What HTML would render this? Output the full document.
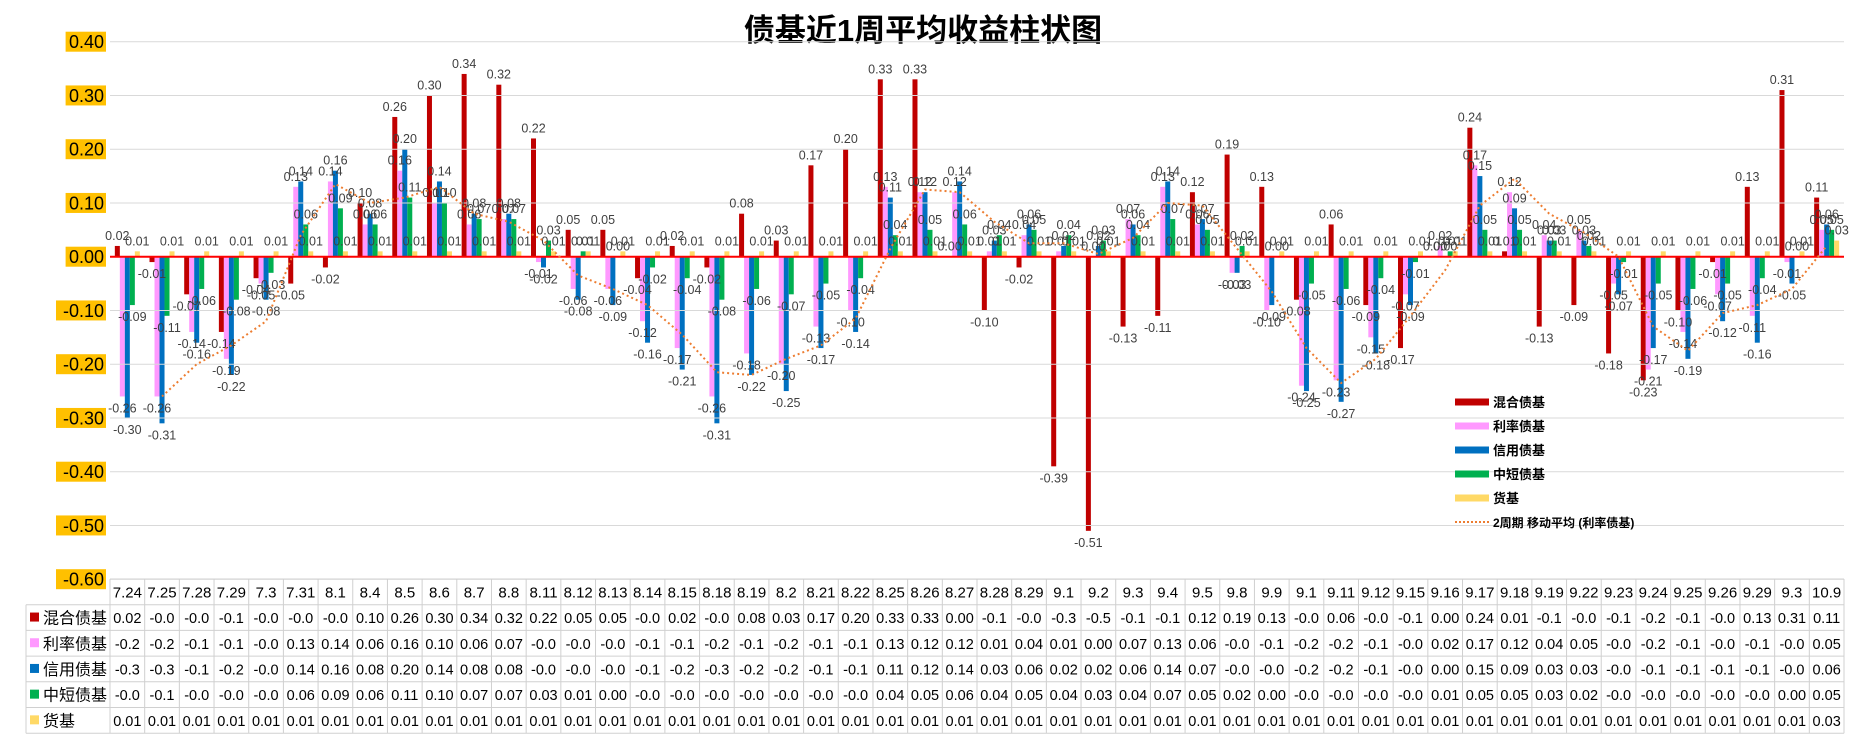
<!DOCTYPE html>
<html><head><meta charset="utf-8">
<style>
html,body{margin:0;padding:0;background:#fff;}
svg{display:block;font-family:"Liberation Sans","Noto Sans CJK SC",sans-serif;}
</style></head>
<body>
<svg id="chart" width="1855" height="742" viewBox="0 0 1855 742" xmlns="http://www.w3.org/2000/svg">
<text x="923" y="41" text-anchor="middle" font-size="31" font-weight="bold" fill="#000" font-family="'Liberation Sans','Noto Sans CJK SC',sans-serif">债基近1周平均收益柱状图</text>
<g id="grid"></g><g id="bars"></g><g id="labels"></g><g id="ma"></g><g id="yaxis"></g><g id="legend"></g><g id="table"></g>
</svg>
<script>
const categories=["7.24","7.25","7.28","7.29","7.3","7.31","8.1","8.4","8.5","8.6","8.7","8.8","8.11","8.12","8.13","8.14","8.15","8.18","8.19","8.2","8.21","8.22","8.25","8.26","8.27","8.28","8.29","9.1","9.2","9.3","9.4","9.5","9.8","9.9","9.1","9.11","9.12","9.15","9.16","9.17","9.18","9.19","9.22","9.23","9.24","9.25","9.26","9.29","9.3","10.9"];
const mixed=[0.02,-0.01,-0.07,-0.14,-0.04,-0.05,-0.02,0.10,0.26,0.30,0.34,0.32,0.22,0.05,0.05,-0.04,0.02,-0.02,0.08,0.03,0.17,0.20,0.33,0.33,0.00,-0.10,-0.02,-0.39,-0.51,-0.13,-0.11,0.12,0.19,0.13,-0.08,0.06,-0.09,-0.17,0.00,0.24,0.01,-0.13,-0.09,-0.18,-0.23,-0.10,-0.01,0.13,0.31,0.11];
const rate=[-0.26,-0.26,-0.14,-0.19,-0.05,0.13,0.14,0.06,0.16,0.10,0.06,0.07,-0.01,-0.06,-0.06,-0.12,-0.17,-0.26,-0.18,-0.20,-0.13,-0.10,0.13,0.12,0.12,0.01,0.04,0.01,0.00,0.07,0.13,0.06,-0.03,-0.10,-0.24,-0.23,-0.15,-0.07,0.02,0.17,0.12,0.04,0.05,-0.05,-0.21,-0.14,-0.07,-0.11,-0.01,0.05];
const credit=[-0.30,-0.31,-0.16,-0.22,-0.08,0.14,0.16,0.08,0.20,0.14,0.08,0.08,-0.02,-0.08,-0.09,-0.16,-0.21,-0.31,-0.22,-0.25,-0.17,-0.14,0.11,0.12,0.14,0.03,0.06,0.02,0.02,0.06,0.14,0.07,-0.03,-0.09,-0.25,-0.27,-0.18,-0.09,0.00,0.15,0.09,0.03,0.03,-0.07,-0.17,-0.19,-0.12,-0.16,-0.05,0.06];
const shortTerm=[-0.09,-0.11,-0.06,-0.08,-0.03,0.06,0.09,0.06,0.11,0.10,0.07,0.07,0.03,0.01,0.00,-0.02,-0.04,-0.08,-0.06,-0.07,-0.05,-0.04,0.04,0.05,0.06,0.04,0.05,0.04,0.03,0.04,0.07,0.05,0.02,0.00,-0.05,-0.06,-0.04,-0.01,0.01,0.05,0.05,0.03,0.02,-0.01,-0.05,-0.06,-0.05,-0.04,0.00,0.05];
const money=[0.01,0.01,0.01,0.01,0.01,0.01,0.01,0.01,0.01,0.01,0.01,0.01,0.01,0.01,0.01,0.01,0.01,0.01,0.01,0.01,0.01,0.01,0.01,0.01,0.01,0.01,0.01,0.01,0.01,0.01,0.01,0.01,0.01,0.01,0.01,0.01,0.01,0.01,0.01,0.01,0.01,0.01,0.01,0.01,0.01,0.01,0.01,0.01,0.01,0.03];
const seriesNames=["混合债基","利率债基","信用债基","中短债基","货基"];
const yTicks=[0.4,0.3,0.2,0.1,0,-0.1,-0.2,-0.3,-0.4,-0.5,-0.6];

const NS="http://www.w3.org/2000/svg";
const colors=["#C00000","#FF99FF","#0070C0","#00B050","#FFD966"];
const series=[mixed,rate,credit,shortTerm,money];
const X0=110,X1=1844,Y0=256.7,UNIT=537.5;
const cw=(X1-X0)/categories.length, bw=5;
function y(v){return Y0-v*UNIT;}
function xc(i){return X0+cw*(i+0.5);}
function mk(tag,attrs,parent){const e=document.createElementNS(NS,tag);for(const k in attrs)e.setAttribute(k,attrs[k]);parent.appendChild(e);return e;}
const G=id=>document.getElementById(id);

yTicks.forEach(t=>{
  if(t!==0){const l=mk('line',{x1:X0,x2:X1,y1:y(t),y2:y(t),stroke:'#d9d9d9','stroke-width':1},G('grid'));
  
  }
  const s=t.toFixed(2);
  const r=mk('rect',{x:104-s.length*9.6,y:y(t)-10,width:s.length*9.6+2,height:20,fill:'#FFC000'},G('yaxis'));
  
  
  const tx=mk('text',{x:104,y:y(t)+6.5,'text-anchor':'end','font-size':18,fill:'#000'},G('yaxis'));
  tx.textContent=s;
  
  
});

series.forEach((arr,si)=>{
  arr.forEach((v,i)=>{
    const bx=xc(i)-12.5+si*bw;
    const r=mk('rect',{x:bx,y:Math.min(y(v),Y0),width:bw,height:Math.max(Math.abs(y(v)-Y0),0.5),fill:colors[si]},G('bars'));
    
    
    const t=mk('text',{x:bx+bw/2,y:v>=0?y(v)-6:y(v)+16,'text-anchor':'middle','font-size':12.5,fill:'#404040'},G('labels'));
    t.textContent=v.toFixed(2);
    
    
  });
});
const z=mk('line',{x1:X0,x2:X1,y1:Y0,y2:Y0,stroke:'#FF0000','stroke-width':2},G('grid'));


G('bars').after(G('grid'));
let pts=[];
for(let i=1;i<rate.length;i++){pts.push(xc(i)+','+y((rate[i-1]+rate[i])/2));}
const ma=mk('polyline',{points:pts.join(' '),fill:'none',stroke:'#ED7D31','stroke-width':2,'stroke-dasharray':'2 3'},G('ma'));



const legNames=seriesNames.concat(["2周期 移动平均 (利率债基)"]);
legNames.forEach((n,i)=>{
  const ly=402+i*24;
  if(i<5){const r=mk('rect',{x:1455,y:ly-3.5,width:34,height:7,fill:colors[i]},G('legend'));
    
    }
  else{const l=mk('line',{x1:1455,x2:1489,y1:ly,y2:ly,stroke:'#ED7D31','stroke-width':2,'stroke-dasharray':'2 2'},G('legend'));
    
    }
  const t=mk('text',{x:1493,y:ly+5,'font-size':i<5?13:12,'font-weight':'bold',fill:'#000'},G('legend'));
  t.textContent=n;
  
  
});

const TT=579,RH=25.7,TB=G('table');
function fmt(v){if(v<0){const t=Math.trunc(Math.round(v*100)/10)/10;return '-'+Math.abs(t).toFixed(1);}return v.toFixed(2);}
for(let r=0;r<=6;r++){
  const yy=TT+r*RH;
  const l=mk('line',{x1:r===0?X0:26,x2:X1,y1:yy,y2:yy,stroke:'#d0d0d0','stroke-width':1},TB);
  
  
}
for(let c=0;c<=categories.length;c++){
  const xx=X0+c*cw;
  const l=mk('line',{x1:xx,x2:xx,y1:TT,y2:TT+6*RH,stroke:'#d0d0d0','stroke-width':1},TB);
  
  
}
const lv=mk('line',{x1:26,x2:26,y1:TT+RH,y2:TT+6*RH,stroke:'#d0d0d0','stroke-width':1},TB);


categories.forEach((c,i)=>{
  const t=mk('text',{x:xc(i),y:TT+RH/2+5.5,'text-anchor':'middle','font-size':15,fill:'#000'},TB);
  t.textContent=c;
  
  
});
series.forEach((arr,si)=>{
  const yy=TT+(si+1)*RH;
  const r=mk('rect',{x:30,y:yy+RH/2-5,width:9,height:9,fill:colors[si]},TB);
  
  
  const n=mk('text',{x:43,y:yy+RH/2+6,'font-size':16,fill:'#000'},TB);
  n.textContent=seriesNames[si];
  
  
  arr.forEach((v,i)=>{
    const t=mk('text',{x:xc(i),y:yy+RH/2+5.5,'text-anchor':'middle','font-size':14.5,fill:'#000'},TB);
    t.textContent=fmt(v);
    
    
  });
});
</script>
</body></html>
